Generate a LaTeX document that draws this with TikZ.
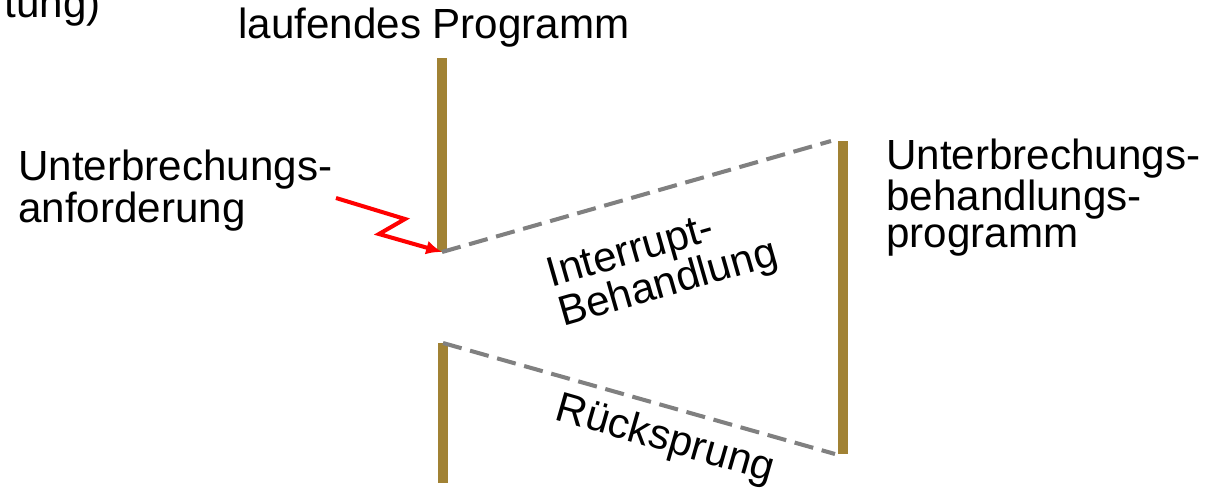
\documentclass[tikz,border=0pt]{standalone}
\usepackage{fontspec}
\setmainfont{Liberation Sans}
\usetikzlibrary{arrows.meta, positioning}
\definecolor{balken}{RGB}{161,130,52}
\definecolor{strich}{RGB}{128,128,128}
\tikzset{
  lauf/.style={line width=6.2pt, draw=balken},
  sprung/.style={line width=2.3pt, draw=strich, dash pattern=on 11pt off 5pt},
  blitz/.style={line width=2.3pt, draw=red},
  txt/.style={inner sep=0pt, font=\fontsize{24}{21}\selectfont, align=left},
}

\begin{document}
\begin{tikzpicture}[x=0.02cm, y=-0.02cm, >={Latex[length=9pt,width=8pt]}]
\useasboundingbox (0,0) rectangle (1211,491);
\coordinate (H1) at (442,58);
\coordinate (H2) at (442,252);
\coordinate (R1) at (443,343);
\coordinate (R2) at (443,483);
\coordinate (U1) at (843,141);
\coordinate (U2) at (843,454);
\coordinate (A0) at (336,198);

\draw[lauf] (H1) -- (H2);
\draw[lauf] (R1) -- (R2);
\draw[lauf] (U1) -- (U2);
\draw[sprung] (H2) -- ([xshift=-0.24cm]U1);
\draw[sprung] (R1) -- ([xshift=-0.16cm]U2);
\draw[blitz,->] (A0) -- (405,219) -- (379,234) -- (H2);

\node[txt, anchor=base east] (alt) at (101,17) {tung)};
\node[txt, anchor=base] (prog) at (434,38) {laufendes Programm};
\node[txt, anchor=base west] (anf) at (18,222) {Unterbrechungs-\\anforderung};
\node[txt, anchor=base west] (ubp) at (886,247) {Unterbrechungs-\\behandlungs-\\programm};
\node[txt, rotate=16] (irq) at (663,266) {Interrupt-\\Behandlung};
\node[txt, rotate=-16] (rueck) at (665,440) {Rücksprung};
\end{tikzpicture}
\end{document}
